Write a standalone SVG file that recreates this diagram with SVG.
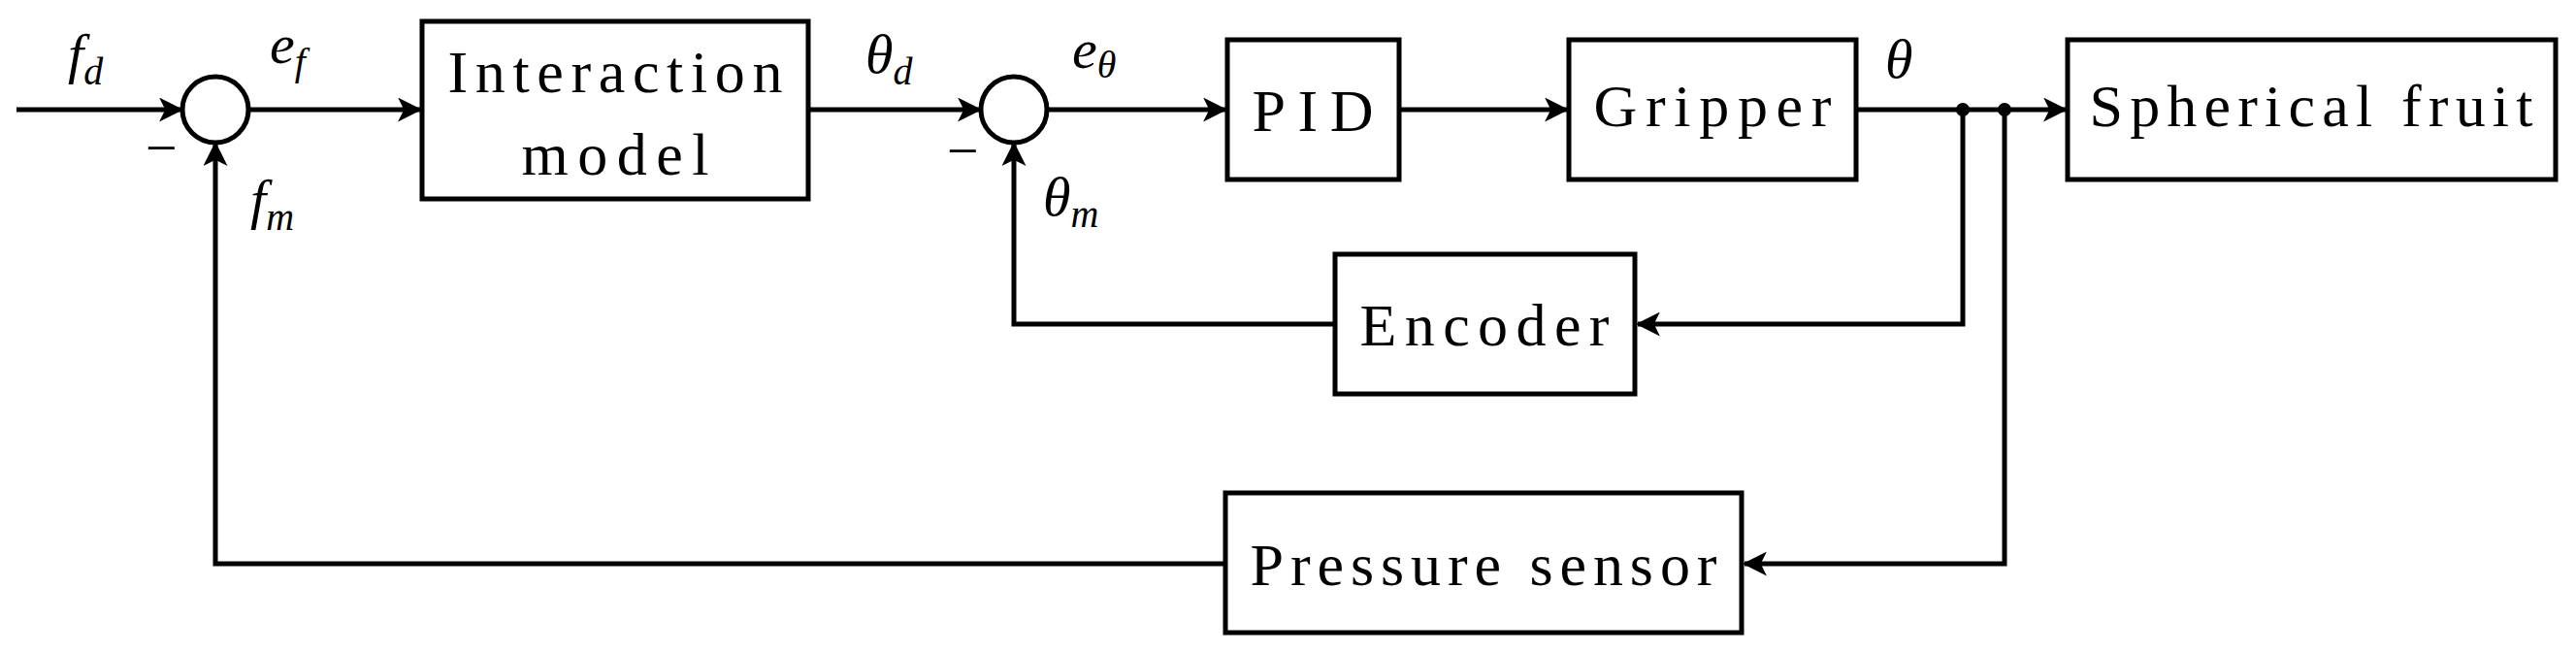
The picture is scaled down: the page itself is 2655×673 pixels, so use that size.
<svg xmlns="http://www.w3.org/2000/svg" width="2655" height="673" viewBox="0 0 2655 673">
<style>
.b{fill:#fff;stroke:#000;stroke-width:5}
.t{font-family:"Liberation Serif",serif;font-size:62px;text-anchor:middle}
.m{font-family:"Liberation Serif",serif;font-size:58px;font-style:italic}
.s{font-size:40px}
.c path,.c line,.c polyline{fill:none;stroke:#000;stroke-width:5;marker-end:url(#a)}
</style>
<defs><marker id="a" viewBox="0 0 12 12" refX="11" refY="6" markerWidth="5" markerHeight="5" orient="auto" markerUnits="strokeWidth"><path d="M0,0 L12,6 L0,12 L3,6 Z" fill="#000"/></marker></defs>
<rect width="2655" height="673" fill="#fff"/>
<g class="c" id="connectors">
<line x1="17" y1="113" x2="187" y2="113"/>
<line x1="256" y1="113" x2="433" y2="113"/>
<line x1="833" y1="113" x2="1010" y2="113"/>
<line x1="1079" y1="113" x2="1263" y2="113"/>
<line x1="1442" y1="113" x2="1615" y2="113"/>
<line x1="1913" y1="113" x2="2129" y2="113"/>
<polyline points="2023,113 2023,334 1688,334"/>
<polyline points="2066,113 2066,581 1798,581"/>
<polyline points="1376,334 1045,334 1045,148"/>
<polyline points="1263,581 222,581 222,148"/>
<circle cx="2023" cy="113" r="7" fill="#000" stroke="none"/>
<circle cx="2066" cy="113" r="7" fill="#000" stroke="none"/>
</g>
<g id="sum1"><circle class="b" cx="222" cy="113" r="34"/></g>
<g id="sum2"><circle class="b" cx="1045" cy="113" r="34"/></g>
<g id="interaction"><rect class="b" x="435" y="22" width="398" height="183"/><text class="t" x="634" y="95" textLength="345">Interaction</text><text class="t" x="634" y="180" textLength="193">model</text></g>
<g id="pid"><rect class="b" x="1265" y="41" width="177" height="144"/><text class="t" x="1353" y="135" textLength="125">PID</text></g>
<g id="gripper"><rect class="b" x="1617" y="41" width="296" height="144"/><text class="t" x="1765" y="130" textLength="245">Gripper</text></g>
<g id="fruit"><rect class="b" x="2131" y="41" width="503" height="144"/><text class="t" x="2382" y="130" textLength="457">Spherical fruit</text></g>
<g id="encoder"><rect class="b" x="1376" y="262" width="309" height="144"/><text class="t" x="1530" y="356" textLength="257">Encoder</text></g>
<g id="pressure"><rect class="b" x="1263" y="508" width="532" height="144"/><text class="t" x="1529" y="603" textLength="481">Pressure sensor</text></g>
<g id="labels">
<text class="m" x="70" y="75">f<tspan class="s" dy="12">d</tspan></text>
<text class="m" x="278" y="65">e<tspan class="s" dy="12">f</tspan></text>
<text class="m" x="892" y="75">θ<tspan class="s" dy="12">d</tspan></text>
<text class="m" x="1105" y="70">e<tspan class="s" dy="10">θ</tspan></text>
<text class="m" x="1943" y="80">θ</text>
<text class="m" x="258" y="225">f<tspan class="s" dy="12">m</tspan></text>
<text class="m" x="1075" y="222">θ<tspan class="s" dy="12">m</tspan></text>
<text class="m" x="146" y="172" font-style="normal">−</text>
<text class="m" x="972" y="175" font-style="normal">−</text>
</g>
</svg>
